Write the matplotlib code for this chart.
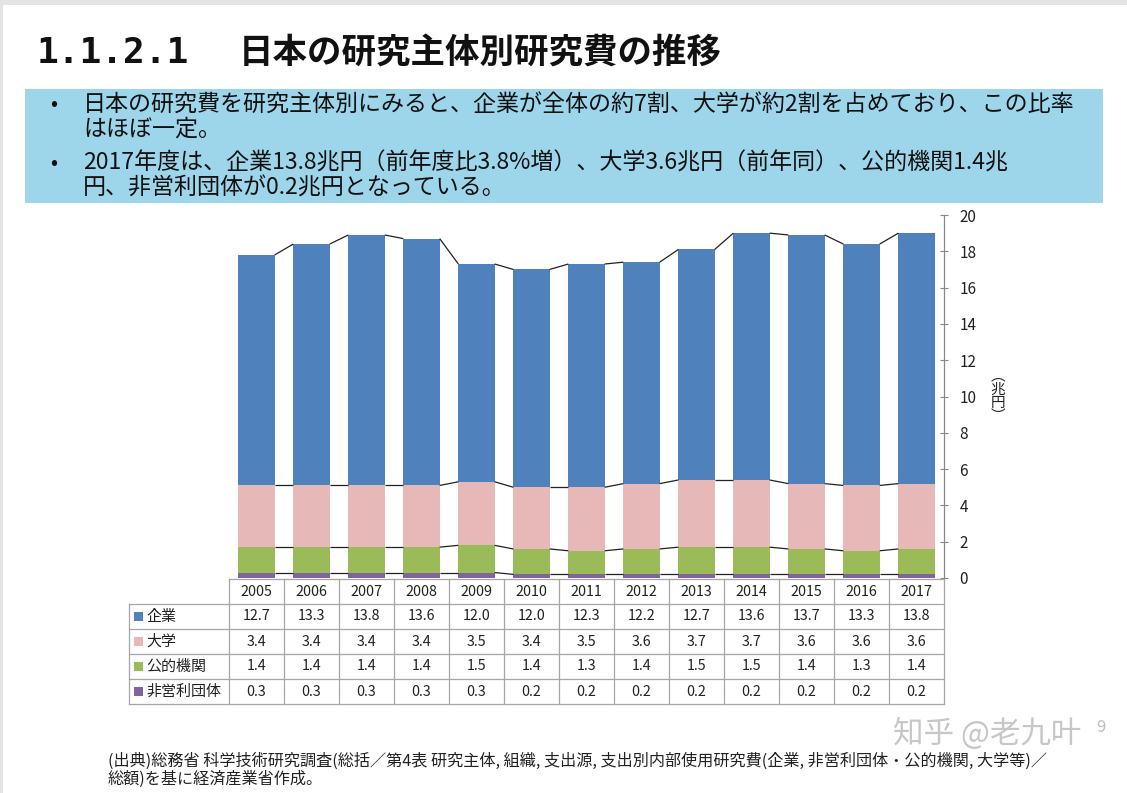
import matplotlib
matplotlib.use('Agg')
import matplotlib.pyplot as plt
from matplotlib.patches import Rectangle

plt.rcParams['font.family'] = ['Noto Sans CJK JP', 'DejaVu Sans']

# ---------------- data ----------------
years = ['2005', '2006', '2007', '2008', '2009', '2010', '2011', '2012',
         '2013', '2014', '2015', '2016', '2017']
kigyo = [12.7, 13.3, 13.8, 13.6, 12.0, 12.0, 12.3, 12.2, 12.7, 13.6, 13.7, 13.3, 13.8]
daigaku = [3.4, 3.4, 3.4, 3.4, 3.5, 3.4, 3.5, 3.6, 3.7, 3.7, 3.6, 3.6, 3.6]
koteki = [1.4, 1.4, 1.4, 1.4, 1.5, 1.4, 1.3, 1.4, 1.5, 1.5, 1.4, 1.3, 1.4]
hieiri = [0.3, 0.3, 0.3, 0.3, 0.3, 0.2, 0.2, 0.2, 0.2, 0.2, 0.2, 0.2, 0.2]
series_names = ['企業', '大学', '公的機関', '非営利団体']
series_colors = ['#4f81bd', '#e6b9b8', '#9bbb59', '#8064a2']
yticks = [0, 2, 4, 6, 8, 10, 12, 14, 16, 18, 20]

title_num = '1.1.2.1'
title_text = '日本の研究主体別研究費の推移'
box_lines = [
    ('•', '日本の研究費を研究主体別にみると、企業が全体の約7割、大学が約2割を占めており、この比率'),
    ('', 'はほぼ一定。'),
    ('•', '2017年度は、企業13.8兆円（前年度比3.8%増）、大学3.6兆円（前年同）、公的機関1.4兆'),
    ('', '円、非営利団体が0.2兆円となっている。'),
]
foot_lines = [
    '(出典)総務省 科学技術研究調査(総括／第4表 研究主体, 組織, 支出源, 支出別内部使用研究費(企業, 非営利団体・公的機関, 大学等)／',
    '総額)を基に経済産業省作成。',
]

W, H = 1127, 793
fig = plt.figure(figsize=(W / 100, H / 100), dpi=100)
fig.patch.set_facecolor('white')


def fx(x):
    return x / W


def fy(y):
    return 1 - y / H


# light grey frame on top / left
fig.patches.append(Rectangle((0, fy(5)), 1, 5 / H, transform=fig.transFigure,
                             facecolor='#e4e4e4', edgecolor='none', zorder=0))
fig.patches.append(Rectangle((0, 0), 3 / W, 1, transform=fig.transFigure,
                             facecolor='#e4e4e4', edgecolor='none', zorder=0))

# ---------------- title ----------------
fig.text(fx(37), fy(53), title_num, fontsize=26, fontweight='bold',
         family=['DejaVu Sans Mono', 'DejaVu Sans'], va='center', ha='left', color='#111111')
fig.text(fx(239), fy(52), title_text, fontsize=24.8, fontweight='bold',
         va='center', ha='left', color='#111111')

# ---------------- blue box ----------------
fig.patches.append(Rectangle((fx(25), fy(203)), (1103 - 25) / W, (203 - 89) / H,
                             transform=fig.transFigure, facecolor='#9dd6eb',
                             edgecolor='none', zorder=1))
line_y = [104, 129, 163, 188]
for (bul, txt), yy in zip(box_lines, line_y):
    if bul:
        fig.text(fx(50), fy(yy), bul, fontsize=15, va='center', ha='left', color='#111111', zorder=2)
    fig.text(fx(83), fy(yy), txt, fontsize=16.6, va='center', ha='left', color='#111111', zorder=2)

# ---------------- chart ----------------
ax_l, ax_r = 229, 944
ax_t, ax_b = 215, 578
ax = fig.add_axes([fx(ax_l), fy(ax_b), (ax_r - ax_l) / W, (ax_b - ax_t) / H])
x = list(range(len(years)))
bw = 0.66
stack = [hieiri, koteki, daigaku, kigyo]
stack_colors = [series_colors[3], series_colors[2], series_colors[1], series_colors[0]]
bottom = [0.0] * len(years)
for vals, col in zip(stack, stack_colors):
    ax.bar(x, vals, width=bw, bottom=bottom, color=col, edgecolor='none', zorder=2)
    bottom = [b + v for b, v in zip(bottom, vals)]
    # series lines connecting tops
    for i in range(len(years) - 1):
        ax.plot([x[i] + bw / 2, x[i + 1] - bw / 2], [bottom[i], bottom[i + 1]],
                color='#222222', lw=0.9, zorder=3, solid_capstyle='butt')

ax.set_xlim(-0.5, len(years) - 0.5)
ax.set_ylim(0, 20)
ax.set_xticks([])
ax.yaxis.tick_right()
ax.set_yticks(yticks)
ax.set_yticklabels([str(t) for t in yticks], fontsize=11, color='#222222')
ax.tick_params(axis='y', direction='inout', length=6, width=0.8, color='#888888', pad=8)
for s in ['left', 'top', 'bottom']:
    ax.spines[s].set_visible(False)
ax.spines['right'].set_color('#888888')
ax.spines['right'].set_linewidth(0.9)
ax.patch.set_alpha(0)

fig.text(fx(998), fy(396), '︵\n兆\n円\n︶', fontsize=10.5, va='center', ha='center',
         linespacing=0.95, color='#222222')

# ---------------- data table ----------------
tab_t, tab_b = 579, 704
tab = fig.add_axes([fx(ax_l), fy(tab_b), (ax_r - ax_l) / W, (tab_b - tab_t) / H])
tab.set_xlim(-0.5, len(years) - 0.5)
tab.set_ylim(5, 0)
tab.axis('off')
slot_px = (ax_r - ax_l) / len(years)
row_px = (tab_b - tab_t) / 5
xl = -0.5 - (ax_l - 129) / slot_px
gcol = '#a6a6a6'
lw = 0.9
tab.plot([-0.5, len(years) - 0.5], [0, 0], color=gcol, lw=lw, clip_on=False)
for r in range(1, 6):
    tab.plot([xl, len(years) - 0.5], [r, r], color=gcol, lw=lw, clip_on=False)
tab.plot([xl, xl], [1, 5], color=gcol, lw=lw, clip_on=False)
for k in range(len(years) + 1):
    tab.plot([k - 0.5, k - 0.5], [0, 5], color=gcol, lw=lw, clip_on=False)

for i, yv in enumerate(years):
    tab.text(i, 0.5, yv, ha='center', va='center', fontsize=10.3, color='#222222')

table_rows = [kigyo, daigaku, koteki, hieiri]
for r, (name, col, vals) in enumerate(zip(series_names, series_colors, table_rows), start=1):
    sq_w = 9 / slot_px
    sq_h = 9 / row_px
    tab.add_patch(Rectangle((xl + 5 / slot_px, r + 0.5 - sq_h / 2), sq_w, sq_h,
                            facecolor=col, edgecolor='none', clip_on=False))
    tab.text(xl + 17 / slot_px, r + 0.5, name, ha='left', va='center', fontsize=10.8,
             color='#222222', clip_on=False)
    for i, v in enumerate(vals):
        tab.text(i, r + 0.5, f'{v:.1f}', ha='center', va='center', fontsize=10.3, color='#222222')

# ---------------- footnote ----------------
fig.text(fx(108), fy(761), foot_lines[0], fontsize=11.6, va='center', ha='left', color='#222222')
fig.text(fx(108), fy(779), foot_lines[1], fontsize=11.6, va='center', ha='left', color='#222222')

# watermark
fig.text(fx(893), fy(734), '知乎 @老九叶', fontsize=22, va='center', ha='left',
         color='#bdbdbd', alpha=0.85, zorder=5)
fig.text(fx(1096), fy(728), '9', fontsize=12, va='center', ha='left', color='#bdbdbd', zorder=5)

fig.savefig('out.png', dpi=100)
